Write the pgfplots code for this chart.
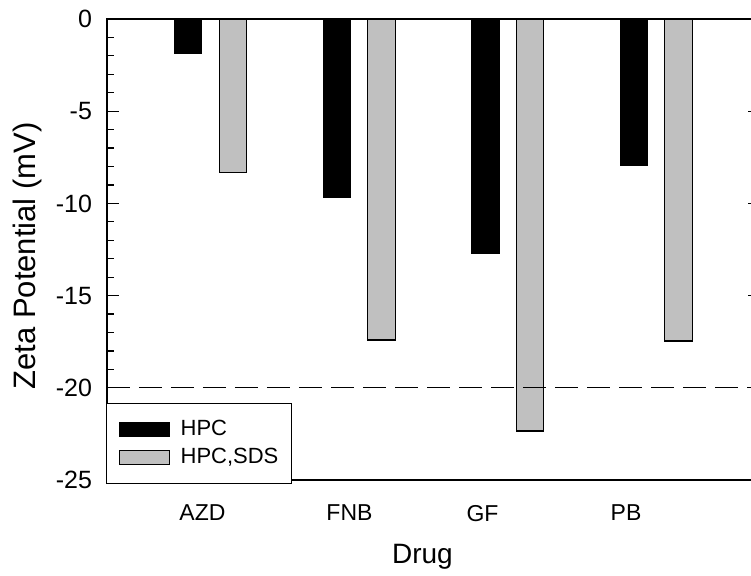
\documentclass[border=0pt]{standalone}
\usepackage{pgfplots}
\pgfplotsset{compat=1.18}
\usepackage{fontspec}
\setmainfont{Liberation Sans}
\definecolor{bargray}{RGB}{192,192,192}
\begin{document}
\begin{tikzpicture}
\begin{axis}[
  at={(53.5pt,-240pt)}, anchor=south west,
  scale only axis, width=326.5pt, height=230.5pt,
  xmin=107, xmax=760, ymin=-25, ymax=0,
  axis line style={line width=0.6pt},
  ytick={-25,-20,-15,-10,-5,0},
  yticklabels={-25,-20,-15,-10,-5,0},
  minor y tick num=4,
  major tick length=6pt, minor tick length=3.5pt,
  every tick/.append style={black, line width=0.6pt},
  xtick={202.5,349.5,482.5,626},
  xticklabels={\raisebox{-1.5pt}{AZD},FNB,\raisebox{-2pt}{GF},PB},
  xtick style={draw=none},
  xticklabel style={font=\fontsize{11.5}{13}\selectfont, yshift=-9pt},
  yticklabel style={font=\fontsize{12.5}{14}\selectfont, xshift=-4pt},
  xlabel={Drug},
  xlabel style={at={(axis description cs:0.483,0)}, anchor=north, yshift=-28.5pt, font=\fontsize{14}{16}\selectfont},
  ylabel={Zeta Potential (mV)},
  ylabel style={at={(axis description cs:-0.1225,0.486)}, anchor=center, font=\fontsize{15.5}{17}\selectfont},
  legend style={at={(axis description cs:-0.0015,0.167)}, anchor=north west,
    draw=black, line width=0.6pt, fill=white, font=\fontsize{11}{13}\selectfont,
    nodes={inner sep=0.5pt},
    cells={anchor=west}, inner xsep=6pt, inner ysep=8pt, row sep=3.5pt,
    /tikz/every odd column/.append style={column sep=5pt}},
  legend image code/.code={\draw[#1, line width=0.5pt] (0pt,-3.5pt) rectangle (25pt,3.5pt);},
]
\addplot[ybar, bar width=27.5, bar shift=0pt, fill=black, draw=black, line width=0.5pt]
  coordinates {(188,-1.86) (337,-9.69) (485.5,-12.74) (634,-7.95)};
\addlegendentry{HPC}
\addplot[ybar, bar width=27.5, bar shift=0pt, fill=bargray, draw=black, line width=0.6pt]
  coordinates {(233,-8.33) (381.5,-17.41) (530,-22.34) (678.5,-17.46)};
\addlegendentry{HPC,SDS}
\addplot[black, line width=0.6pt, dash pattern=on 11.5pt off 4.5pt, forget plot]
  coordinates {(107,-20) (760,-20)};
\end{axis}
\pgfresetboundingbox
\path[use as bounding box] (0,0) rectangle (375.5pt,-288pt);
\end{tikzpicture}
\end{document}
